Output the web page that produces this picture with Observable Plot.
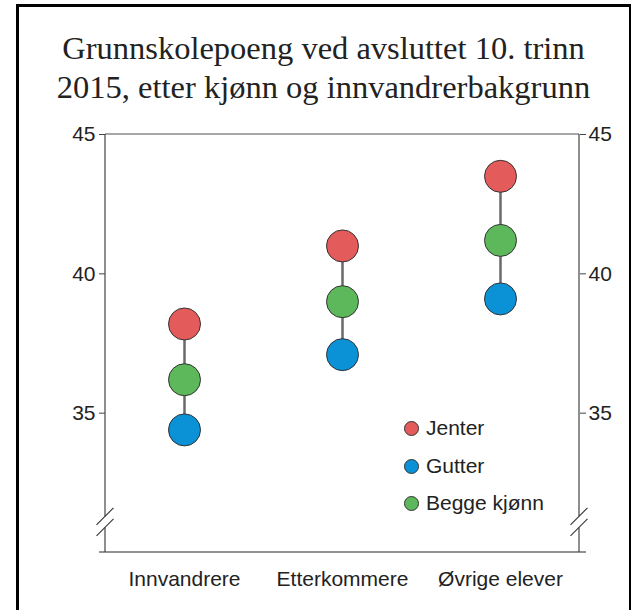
<!DOCTYPE html>
<html>
<head>
<meta charset="utf-8">
<script src="https://cdn.jsdelivr.net/npm/d3@7"></script>
<script src="https://cdn.jsdelivr.net/npm/@observablehq/plot@0.6"></script>
<style>
  html, body { margin: 0; padding: 0; background: #fff; }
  #wrap { position: relative; width: 631px; height: 610px; overflow: hidden; }
  #frame { position: absolute; left: 16px; top: 4px; width: 610px; height: 700px;
           border-left: 3px solid #000; border-top: 3px solid #000; border-right: 2px solid #000; }
  #title { position: absolute; left: 16px; top: 29px; width: 615px; text-align: center;
           font-family: "Liberation Serif", "Times New Roman", serif; font-size: 32.5px;
           line-height: 39px; color: #222; }
  #chart { position: absolute; left: 0; top: 115px; }
  #legend { position: absolute; left: 404px; top: 416px; font-family: "Liberation Sans", Arial, sans-serif;
            font-size: 21px; color: #222; }
  .li { position: relative; height: 37.5px; }
  .sw { position: absolute; left: 0; top: 5px; width: 13px; height: 13px; border-radius: 50%; border: 1px solid #333; }
  .lt { position: absolute; left: 22px; top: 0; line-height: 24px; white-space: nowrap; }
</style>
</head>
<body>
<div id="wrap">
  <div id="frame"></div>
  <div id="title">Grunnskolepoeng ved avsluttet 10. trinn<br>2015, etter kjønn og innvandrerbakgrunn</div>
  <div id="chart"></div>
  <div id="legend"></div>
</div>
<script>
const categories = ["Innvandrere", "Etterkommere", "Øvrige elever"];
const jenter = [38.2, 41.0, 43.5];
const gutter = [34.4, 37.1, 39.1];
const begge = [36.2, 39.0, 41.2];
const seriesNames = ["Jenter", "Gutter", "Begge kjønn"];
const seriesColors = ["#e35b5b", "#0b91d5", "#5cb85b"];
const yTicks = [35, 40, 45];
const yDomain = [30, 45];
const breakValues = [31.28, 30.88];

const rows = [];
categories.forEach((c, i) => {
  rows.push({category: c, series: "Jenter", value: jenter[i]});
  rows.push({category: c, series: "Begge kjønn", value: begge[i]});
  rows.push({category: c, series: "Gutter", value: gutter[i]});
});
const spans = categories.map((c, i) => ({category: c, lo: gutter[i], hi: jenter[i]}));

function axisFrame(index, scales, values, dimensions) {
  const g = d3.create("svg:g");
  const xl = dimensions.marginLeft;
  const xr = dimensions.width - dimensions.marginRight;
  const yt = scales.y(yDomain[1]);
  const yb = scales.y(yDomain[0]);
  const b1 = scales.y(breakValues[0]);
  const b2 = scales.y(breakValues[1]);
  g.append("line").attr("x1", xl).attr("x2", xr).attr("y1", yt).attr("y2", yt)
    .attr("stroke", "#8a8a8a").attr("stroke-width", 1.5);
  g.append("line").attr("x1", xl - 6).attr("x2", xr + 7).attr("y1", yb).attr("y2", yb)
    .attr("stroke", "#6e6e6e").attr("stroke-width", 1.5);
  for (const x of [xl, xr]) {
    g.append("line").attr("x1", x).attr("x2", x).attr("y1", yt).attr("y2", b1)
      .attr("stroke", "#444").attr("stroke-width", 1.2);
    g.append("line").attr("x1", x).attr("x2", x).attr("y1", b2).attr("y2", yb)
      .attr("stroke", "#444").attr("stroke-width", 1.2);
    for (const yy of [b1, b2]) {
      g.append("line").attr("x1", x - 8.5).attr("x2", x + 8.5).attr("y1", yy + 8.5).attr("y2", yy - 8.5)
        .attr("stroke", "#333").attr("stroke-width", 1.1);
    }
  }
  return g.node();
}

const chart = Plot.plot({
  width: 631,
  height: 495,
  marginTop: 19,
  marginBottom: 58,
  marginLeft: 105,
  marginRight: 52,
  style: {fontFamily: "'Liberation Sans', Arial, sans-serif", fontSize: "21px", color: "#222", background: "transparent", overflow: "visible"},
  x: {type: "point", domain: categories, padding: 0.5, label: null},
  y: {domain: yDomain, label: null},
  color: {domain: seriesNames, range: seriesColors},
  marks: [
    axisFrame,
    Plot.axisY({anchor: "left", ticks: yTicks, tickSize: 6, tickPadding: 4, label: null, fontSize: 21, stroke: "#444"}),
    Plot.axisY({anchor: "right", ticks: yTicks, tickSize: 6, tickPadding: 3, label: null, fontSize: 21, stroke: "#444"}),
    Plot.axisX({tickSize: 0, tickPadding: 19, label: null, fontSize: 21}),
    Plot.ruleX(spans, {x: "category", y1: "lo", y2: "hi", stroke: "#6a6a6a", strokeWidth: 2.5}),
    Plot.dot(rows, {x: "category", y: "value", fill: "series", r: 16, stroke: "#333", strokeWidth: 1})
  ]
});
document.getElementById("chart").appendChild(chart);

const legend = document.getElementById("legend");
seriesNames.forEach((s, i) => {
  const item = document.createElement("div");
  item.className = "li";
  const sw = document.createElement("span");
  sw.className = "sw";
  sw.style.background = seriesColors[i];
  const t = document.createElement("span");
  t.className = "lt";
  t.textContent = s;
  item.appendChild(sw);
  item.appendChild(t);
  legend.appendChild(item);
});
</script>
</body>
</html>
